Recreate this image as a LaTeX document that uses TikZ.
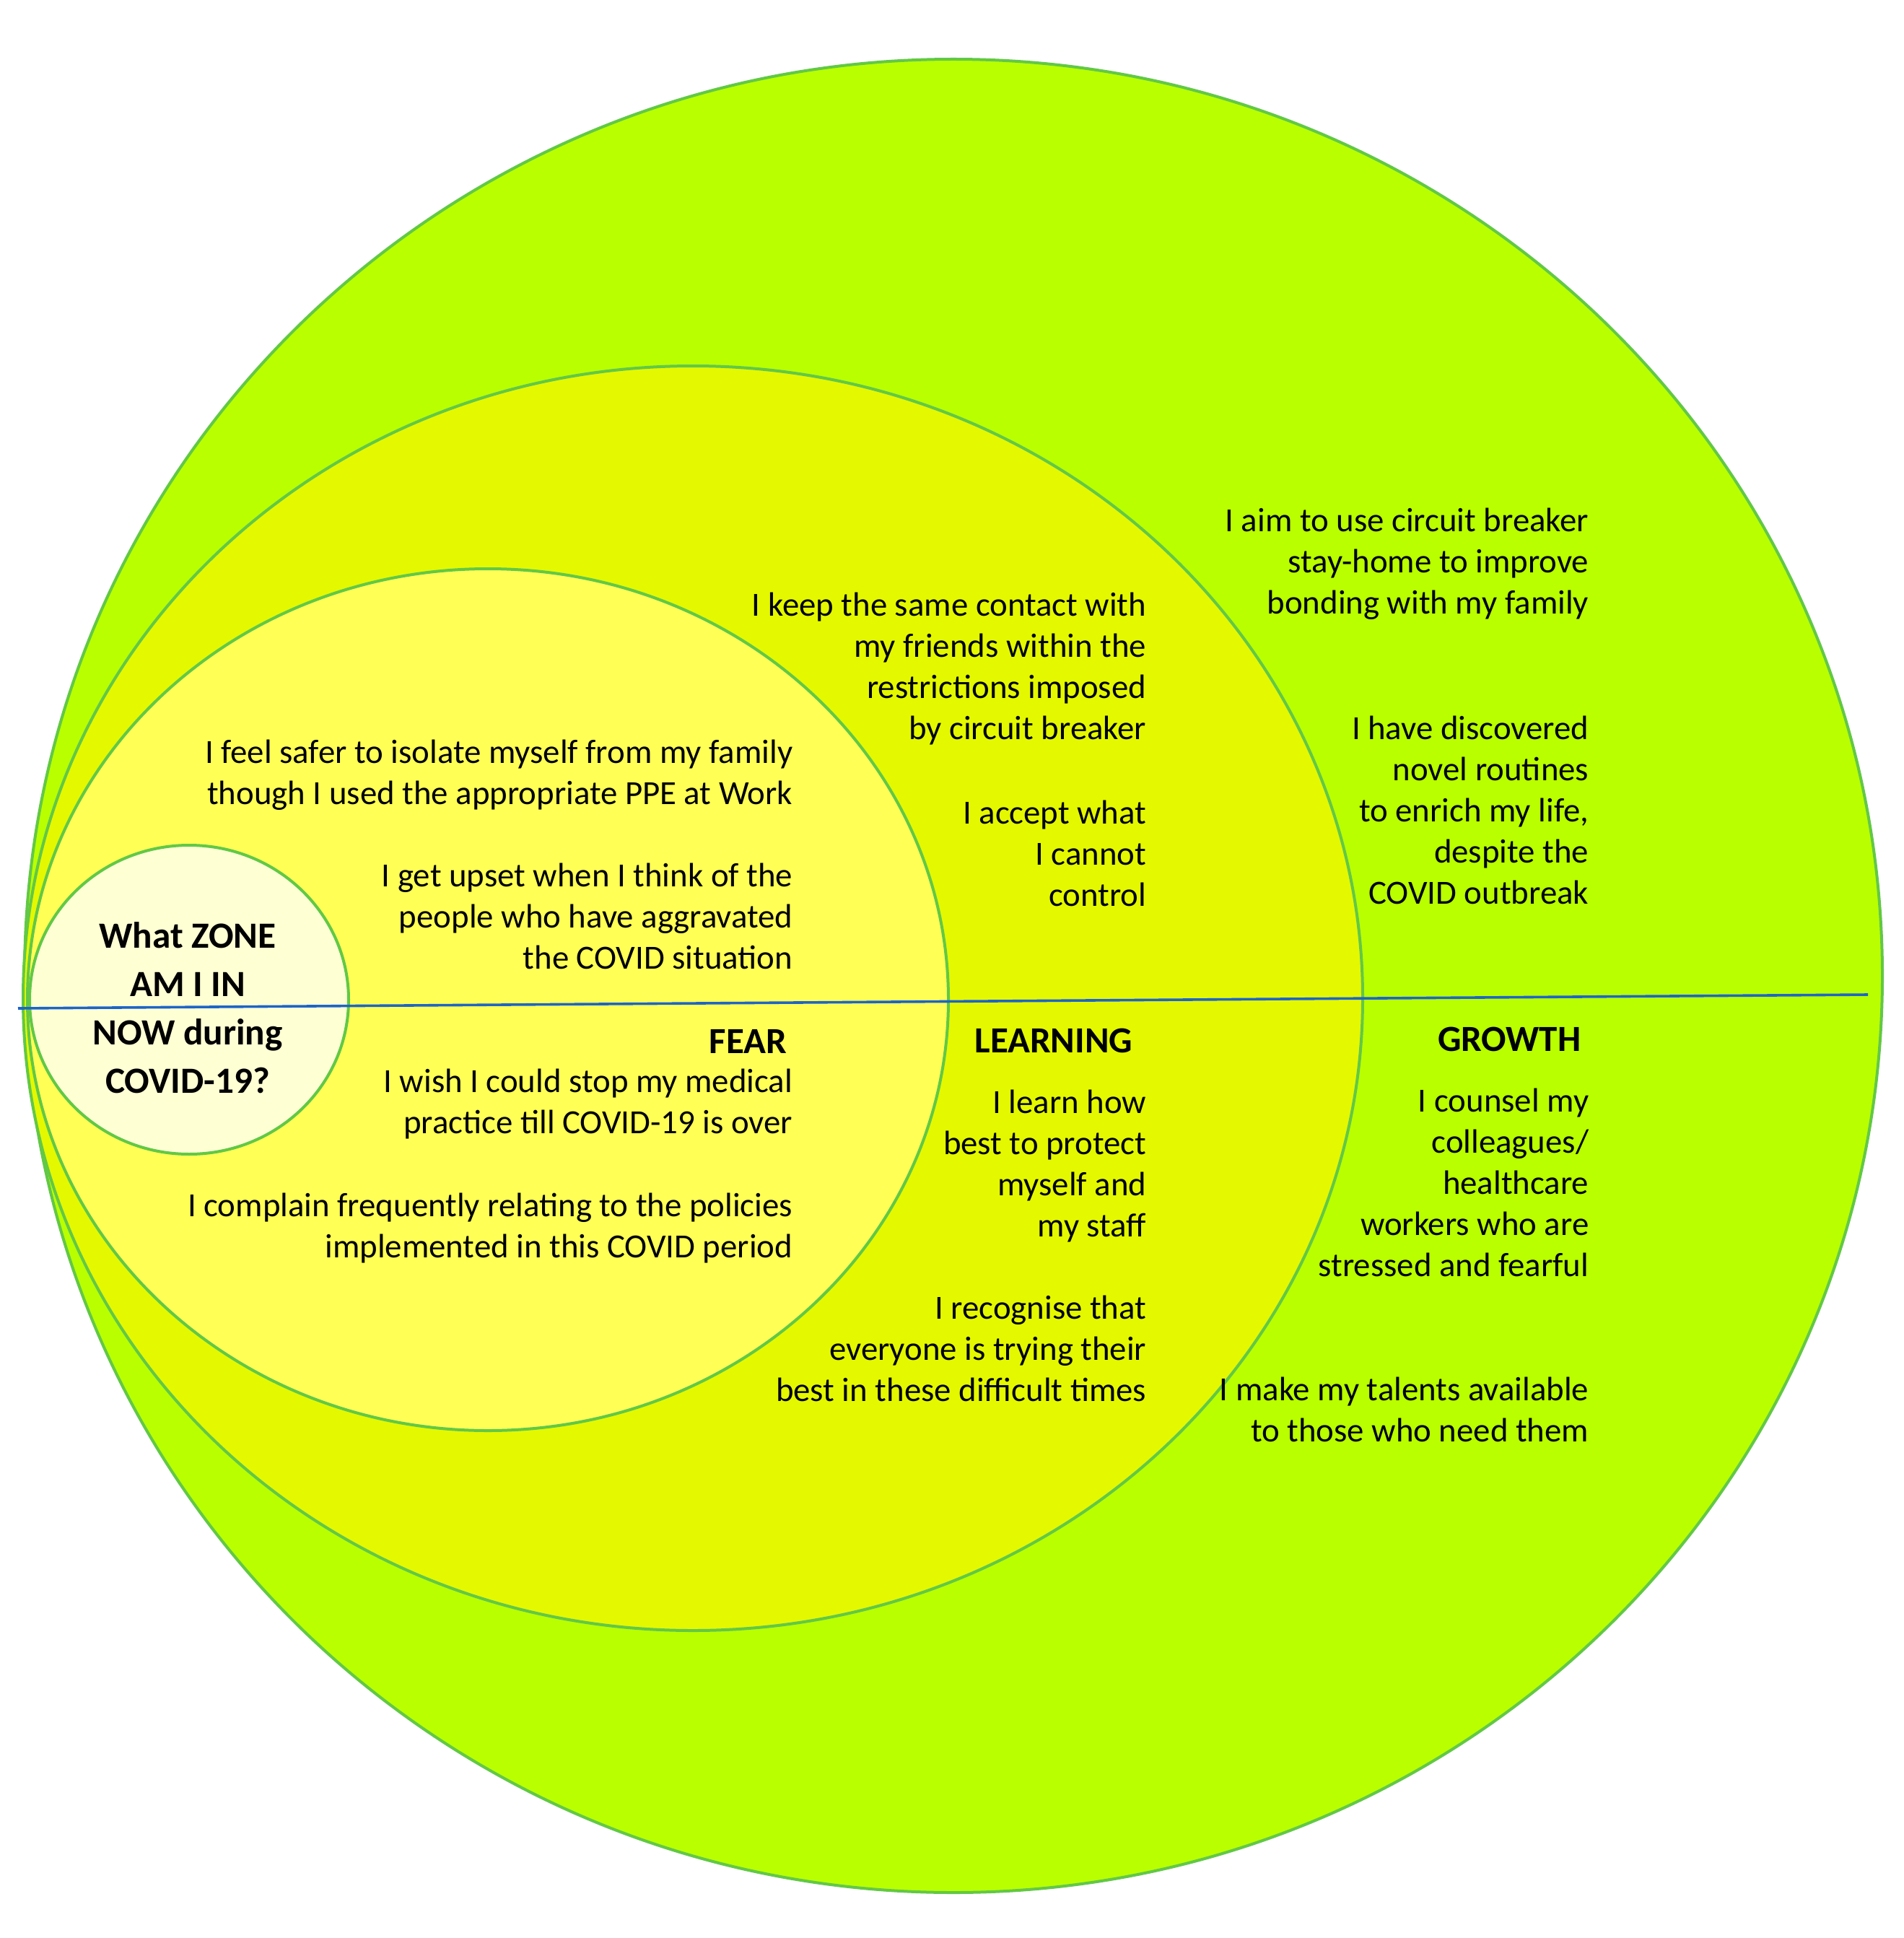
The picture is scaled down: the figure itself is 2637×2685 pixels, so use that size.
\documentclass[tikz,border=0pt]{standalone}
\usepackage{fontspec}
\setmainfont{Carlito}
\usetikzlibrary{shapes.geometric}
\definecolor{outerC}{RGB}{185,255,0}
\definecolor{midC}{RGB}{228,248,0}
\definecolor{innerC}{RGB}{255,255,85}
\definecolor{coreC}{RGB}{255,255,212}
\definecolor{edgeC}{RGB}{98,200,70}
\definecolor{lineC}{RGB}{30,100,200}
\newcommand{\rlines}[1]{\parbox[t]{320pt}{\raggedleft #1}}
\newcommand{\clines}[1]{\parbox[t]{160pt}{\centering #1}}
\begin{document}
\begin{tikzpicture}[x=0.25pt,y=-0.25pt,
  zone/.style={ellipse, draw=edgeC, line width=1pt, inner sep=0pt, outer sep=0pt},
  txt/.style={inner sep=0pt, anchor=base east, font=\fontsize{11.7pt}{14.3pt}\selectfont},
  head/.style={inner sep=0pt, anchor=base east, font=\fontsize{12.75pt}{15pt}\selectfont\bfseries},
  core/.style={inner sep=0pt, anchor=base, font=\fontsize{12.8pt}{16.8pt}\selectfont\bfseries},
  divider/.style={draw=lineC, line width=0.9pt}]
\useasboundingbox (0,0) rectangle (2637,2685);
% zones
\node[zone, fill=outerC, minimum width=643.5pt, minimum height=635pt] (growthzone) at (1321,1352) {};
\node[zone, fill=midC, minimum width=464pt, minimum height=438pt] (learnzone) at (960,1383) {};
\node[zone, fill=innerC, minimum width=319pt, minimum height=298.5pt] (fearzone) at (676,1385) {};
\node[zone, fill=coreC, minimum width=110.5pt, minimum height=107pt] (corezone) at (262,1385) {};
% divider
\coordinate (lineL) at (25,1397);
\coordinate (lineR) at (2588,1378);
\draw[divider] (lineL) -- (lineR);
% core question
\node[core] (question) at (260,1313) {\clines{What ZONE\\AM I IN\\NOW during\\COVID-19?}};
% fear column
\node[txt] (f1) at (1099,1057) {\rlines{I feel safer to isolate myself from my family\\though I used the appropriate PPE at Work}};
\node[txt] (f2) at (1099,1228) {\rlines{I get upset when I think of the\\people who have aggravated\\the COVID situation}};
\node[head] (fear) at (1091,1459) {FEAR};
\node[txt] (f3) at (1099,1513) {\rlines{I wish I could stop my medical\\practice till COVID-19 is over}};
\node[txt] (f4) at (1099,1685) {\rlines{I complain frequently relating to the policies\\implemented in this COVID period}};
% learning column
\node[txt] (l1) at (1589,853) {\rlines{I keep the same contact with\\my friends within the\\restrictions imposed\\by circuit breaker}};
\node[txt] (l2) at (1589,1141) {\rlines{I accept what\\I cannot\\control}};
\node[head] (learning) at (1570,1458) {LEARNING};
\node[txt] (l3) at (1589,1542) {\rlines{I learn how\\best to protect\\myself and\\my staff}};
\node[txt] (l4) at (1589,1827) {\rlines{I recognise that\\everyone is trying their\\best in these difficult times}};
% growth column
\node[txt] (g1) at (2202,736) {\rlines{I aim to use circuit breaker\\stay-home to improve\\bonding with my family}};
\node[txt] (g2) at (2202,1024) {\rlines{I have discovered\\novel routines\\to enrich my life,\\despite the\\COVID outbreak}};
\node[head] (growth) at (2191,1456) {GROWTH};
\node[txt] (g3) at (2202,1540) {\rlines{I counsel my\\colleagues/\\healthcare\\workers who are\\stressed and fearful}};
\node[txt] (g4) at (2202,1940) {\rlines{I make my talents available\\to those who need them}};
\end{tikzpicture}
\end{document}
